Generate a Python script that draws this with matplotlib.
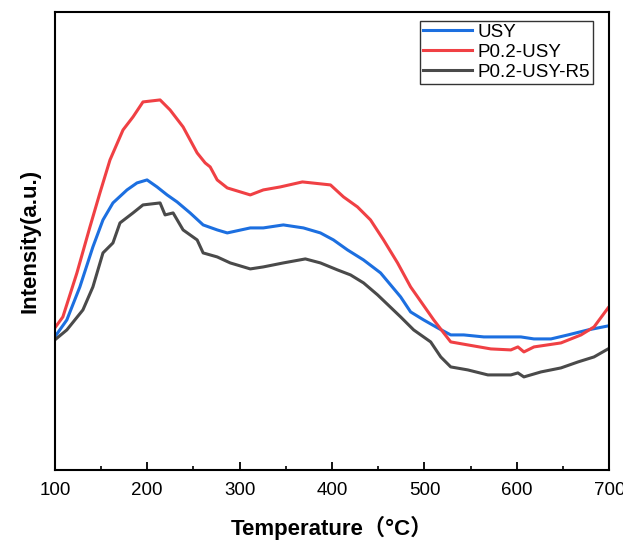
import matplotlib
matplotlib.use('Agg')
import matplotlib.pyplot as plt
from matplotlib.ticker import MultipleLocator

plt.rcParams['font.family'] = ['Liberation Sans', 'Noto Sans CJK SC', 'DejaVu Sans']

# (temperature in C, intensity in arbitrary units)
usy_t = [100, 113, 127.1, 141.2, 152.1, 162.9, 178.1, 188.9, 199.8, 210.6, 221.5, 232.3,
         246.4, 260.5, 275.7, 286.6, 311.5, 325.6, 347.3, 369, 387.4, 401.5, 416.7, 434,
         452.5, 474.2, 485, 499.1, 514.3, 528.4, 542.5, 564.2, 582.6, 604.3, 618.4, 636.9,
         655.3, 677, 698.7]
usy_i = [133, 150, 183, 223, 250, 267, 280, 287, 290, 283, 275, 268,
         257, 245, 240, 237, 242, 242, 245, 242, 237, 230, 220, 210,
         197, 173, 158, 150, 142, 135, 135, 133, 133, 133, 131, 131,
         135, 140, 144]

p02_t = [100, 108.7, 123.9, 138, 148.8, 159.7, 173.8, 184.6, 195.4, 213.9, 224.7, 238.8,
         254, 262.7, 268.1, 275.7, 286.6, 311.5, 325.6, 344, 367.9, 398.3, 412.4, 427.5,
         441.6, 455.7, 470.9, 485, 492.6, 510, 520.8, 528.4, 546.9, 571.8, 593.5, 601.1,
         607.6, 618.5, 647.7, 669.4, 683.5, 698.7]
p02_i = [142, 153, 197, 243, 277, 310, 340, 353, 368, 370, 360, 343,
         317, 307, 303, 290, 282, 275, 280, 283, 288, 285, 273, 263,
         250, 230, 207, 183, 173, 150, 137, 128, 125, 121, 120, 123,
         118, 123, 127, 135, 143, 162]

r5_t = [100, 113, 130.4, 141.2, 152.1, 162.9, 170.5, 184.6, 195.4, 213.9, 219.3, 228,
        238.8, 254, 260.5, 275.7, 289.8, 311.5, 325.6, 347.3, 371.1, 387.4, 405.9, 420,
        434.1, 449.3, 474.2, 488.3, 506.7, 517.6, 528.4, 546.9, 568.6, 593.5, 601.1, 607.6,
        626.1, 647.7, 666.2, 683.5, 698.7]
r5_i = [130, 140, 160, 183, 217, 227, 247, 257, 265, 267, 255, 257,
        240, 230, 217, 213, 207, 201, 203, 207, 211, 207, 200, 195,
        187, 175, 153, 140, 128, 113, 103, 100, 95, 95, 97, 93,
        98, 102, 108, 113, 121]

fig = plt.figure(figsize=(6.23, 5.42), dpi=100)
ax = fig.add_axes([0.088, 0.133, 0.89, 0.845])

ax.plot(usy_t, usy_i, color='#1c6fe0', lw=2.2, label='USY')
ax.plot(p02_t, p02_i, color='#f04044', lw=2.2, label='P0.2-USY')
ax.plot(r5_t, r5_i, color='#4a4a4a', lw=2.2, label='P0.2-USY-R5')

ax.set_xlim(100, 700)
ax.set_ylim(0, 458)
ax.xaxis.set_major_locator(MultipleLocator(100))
ax.xaxis.set_minor_locator(MultipleLocator(50))
ax.tick_params(axis='x', which='major', direction='in', length=6, width=1.3,
               labelsize=13.5, pad=9)
ax.tick_params(axis='x', which='minor', direction='in', length=3, width=1.2)
ax.set_yticks([])
for s in ax.spines.values():
    s.set_linewidth(1.5)

ax.set_xlabel('Temperature（°C）', fontsize=16, fontweight='bold', labelpad=12)
ax.set_ylabel('Intensity(a.u.)', fontsize=16, fontweight='bold', labelpad=10)

leg = ax.legend(loc='upper right', bbox_to_anchor=(0.97, 0.98), fontsize=13.5,
                frameon=True, fancybox=False, edgecolor='black', handlelength=2.6,
                borderpad=0.15, labelspacing=0.15, handletextpad=0.3, borderaxespad=0)
leg.get_frame().set_linewidth(1.0)

plt.savefig('out.png', dpi=100)
